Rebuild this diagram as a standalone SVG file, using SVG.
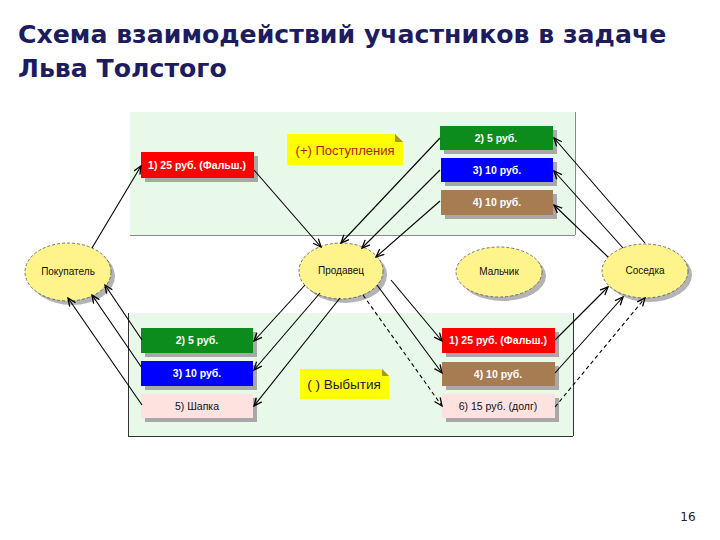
<svg xmlns="http://www.w3.org/2000/svg" width="720" height="540" viewBox="0 0 720 540">
<style>
.title{font-family:"DejaVu Sans",Verdana,sans-serif;font-weight:bold;font-size:25.2px;fill:#1c1c5e}
.panel{fill:#e9f9e9}
.edge{stroke:#333;stroke-width:1;fill:none}
.edgeg{stroke:#888;stroke-width:1;fill:none}
.shadow{fill:#a8a8a8}
.box text{font-family:"Liberation Sans",Arial,sans-serif;font-size:10.5px;text-anchor:middle}
.wt{fill:#fff;font-weight:bold}
.bt{fill:#111}
.ell{fill:#fff38c;stroke:#555;stroke-width:0.8;stroke-dasharray:3 2}
.eshadow{fill:#b4b4b4}
.elab{font-family:"Liberation Sans",Arial,sans-serif;font-size:10px;fill:#111;text-anchor:middle}
.note{fill:#ffff00}
.fold{fill:#a09a20}
.conn line{stroke:#000;stroke-width:1.1;marker-end:url(#arr)}
.conn line.d{stroke-dasharray:4 3}
</style>
<defs>
<marker id="arr" markerWidth="10" markerHeight="10" refX="9" refY="4" orient="auto" markerUnits="userSpaceOnUse">
<path d="M1,0.5 L9,4 L1,7.5" fill="none" stroke="#000" stroke-width="1.3"/>
</marker>
</defs>
<rect width="720" height="540" fill="#fff"/>
<text class="title" x="18" y="43">Схема взаимодействий участников в задаче</text>
<text class="title" x="18" y="77">Льва Толстого</text>

<g id="panels">
<rect class="panel" x="130" y="112" width="445" height="123"/>
<line class="edgeg" x1="130" y1="235.5" x2="575" y2="235.5"/>
<line class="edgeg" x1="575.5" y1="112" x2="575.5" y2="235"/>
<rect class="panel" x="128" y="313" width="445" height="123"/>
<line class="edge" x1="128.5" y1="313" x2="128.5" y2="436"/>
<line class="edge" x1="128" y1="436.5" x2="573" y2="436.5"/>
<line class="edge" x1="573.5" y1="313" x2="573.5" y2="436"/>
</g>

<g id="note-in">
<polygon class="note" points="287,134 395,134 403,142 403,165 287,165"/>
<polygon class="fold" points="395,134 403,142 395,142"/>
<text x="345" y="155" font-family="'Liberation Sans',Arial,sans-serif" font-size="13" fill="#b01e00" text-anchor="middle">(+) Поступления</text>
</g>
<g id="note-out">
<polygon class="note" points="300,369 382,369 389,376 389,399 300,399"/>
<polygon class="fold" points="382,369 389,376 382,376"/>
<text x="344" y="389" font-family="'Liberation Sans',Arial,sans-serif" font-size="13.5" fill="#1a1a3a" text-anchor="middle">( ) Выбытия</text>
</g>

<g id="t-red" class="box"><rect class="shadow" x="145" y="156" width="113" height="26"/><rect x="141" y="152" width="113" height="26" fill="#ff0000"/><text class="wt" x="197" y="169">1) 25 руб. (Фальш.)</text></g>
<g id="t-green" class="box"><rect class="shadow" x="444" y="130" width="113" height="24"/><rect x="440" y="126" width="113" height="24" fill="#0c8c1c"/><text class="wt" x="496" y="142">2) 5 руб.</text></g>
<g id="t-blue" class="box"><rect class="shadow" x="445" y="162" width="112" height="24"/><rect x="441" y="158" width="112" height="24" fill="#0000ff"/><text class="wt" x="497" y="174">3) 10 руб.</text></g>
<g id="t-brown" class="box"><rect class="shadow" x="445" y="194" width="112" height="25"/><rect x="441" y="190" width="112" height="25" fill="#a77c52"/><text class="wt" x="497" y="206">4) 10 руб.</text></g>

<g id="b-green" class="box"><rect class="shadow" x="145" y="332" width="112" height="25"/><rect x="141" y="328" width="112" height="25" fill="#0c8c1c"/><text class="wt" x="197" y="344">2) 5 руб.</text></g>
<g id="b-blue" class="box"><rect class="shadow" x="145" y="365" width="112" height="25"/><rect x="141" y="361" width="112" height="25" fill="#0000ff"/><text class="wt" x="197" y="377">3) 10 руб.</text></g>
<g id="b-pink" class="box"><rect class="shadow" x="145" y="398" width="112" height="24"/><rect x="141" y="394" width="112" height="24" fill="#fde2e0"/><text class="bt" x="197" y="410">5) Шапка</text></g>

<g id="b-red" class="box"><rect class="shadow" x="446" y="332" width="113" height="25"/><rect x="442" y="328" width="113" height="25" fill="#ff0000"/><text class="wt" x="498" y="344">1) 25 руб. (Фальш.)</text></g>
<g id="b-brown" class="box"><rect class="shadow" x="446" y="366" width="113" height="24"/><rect x="442" y="362" width="113" height="24" fill="#a77c52"/><text class="wt" x="498" y="378">4) 10 руб.</text></g>
<g id="b-pink2" class="box"><rect class="shadow" x="446" y="398" width="113" height="24"/><rect x="442" y="394" width="113" height="24" fill="#fde2e0"/><text class="bt" x="498" y="410">6) 15 руб. (долг)</text></g>

<g id="pokupatel"><ellipse class="eshadow" cx="72" cy="276" rx="43" ry="29"/><ellipse class="ell" cx="68" cy="272" rx="43" ry="29"/><text class="elab" x="68" y="275">Покупатель</text></g>
<g id="prodavec"><ellipse class="eshadow" cx="345" cy="275" rx="42" ry="28"/><ellipse class="ell" cx="341" cy="271" rx="42" ry="28"/><text class="elab" x="341" y="274">Продавец</text></g>
<g id="malchik"><ellipse class="eshadow" cx="503" cy="276" rx="43" ry="25"/><ellipse class="ell" cx="499" cy="272" rx="43" ry="25"/><text class="elab" x="499" y="275">Мальчик</text></g>
<g id="sosedka"><ellipse class="eshadow" cx="649" cy="275" rx="43" ry="27"/><ellipse class="ell" cx="645" cy="271" rx="43" ry="27"/><text class="elab" x="645" y="274">Соседка</text></g>

<g id="connectors" class="conn">
<line x1="92" y1="248" x2="141" y2="166"/>
<line x1="254" y1="170" x2="321" y2="247"/>
<line x1="440" y1="138" x2="341" y2="243"/>
<line x1="440" y1="170" x2="362" y2="248"/>
<line x1="440" y1="201" x2="376" y2="257"/>
<line x1="645" y1="243" x2="554" y2="138"/>
<line x1="623" y1="248" x2="554" y2="171"/>
<line x1="608" y1="257" x2="554" y2="205"/>
<line x1="142" y1="340" x2="105" y2="285"/>
<line x1="142" y1="368" x2="92" y2="295"/>
<line x1="142" y1="405" x2="68" y2="298"/>
<line x1="305" y1="285" x2="254" y2="341"/>
<line x1="320" y1="293" x2="254" y2="370"/>
<line x1="340" y1="298" x2="254" y2="406"/>
<line x1="391" y1="280" x2="442" y2="341"/>
<line x1="377" y1="285" x2="442" y2="373"/>
<line class="d" x1="363" y1="295" x2="442" y2="406"/>
<line x1="555" y1="340" x2="608" y2="287"/>
<line x1="555" y1="373" x2="623" y2="297"/>
<line class="d" x1="555" y1="407" x2="645" y2="298"/>
</g>

<text x="688" y="521" font-family="'DejaVu Sans',Verdana,sans-serif" font-size="12" fill="#222" text-anchor="middle">16</text>
</svg>
